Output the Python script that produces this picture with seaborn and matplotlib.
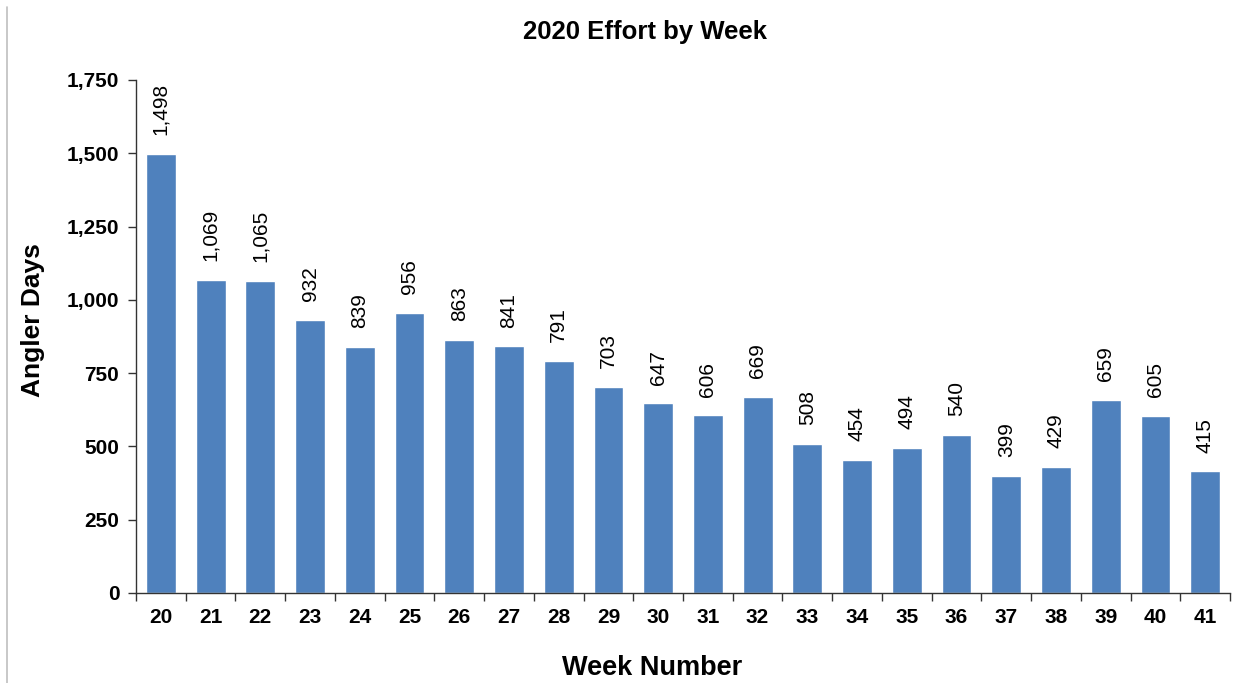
import matplotlib
matplotlib.use("Agg")
import matplotlib.pyplot as plt
import seaborn as sns
import pandas as pd
from matplotlib.lines import Line2D
from matplotlib.ticker import FuncFormatter, FixedLocator

weeks = [str(w) for w in range(20, 42)]
angler_days = [1498, 1069, 1065, 932, 839, 956, 863, 841, 791, 703, 647, 606,
               669, 508, 454, 494, 540, 399, 429, 659, 605, 415]
y_ticks = [0, 250, 500, 750, 1000, 1250, 1500, 1750]

sns.set_theme(style="white")
plt.rcParams['font.family'] = ['Liberation Sans', 'DejaVu Sans']

df = pd.DataFrame({"week": weeks, "days": angler_days})

fig = plt.figure(figsize=(12.33, 6.83), dpi=100)
ax = fig.add_axes([0.1103, 0.1318, 0.8873, 0.7511])
sns.barplot(data=df, x="week", y="days", color="#4F81BD", width=0.6,
            saturation=1, ax=ax)

ax.set_xlim(-0.5, len(weeks) - 0.5)
ax.set_ylim(0, 1750)
ax.set_yticks(y_ticks)
ax.yaxis.set_major_formatter(FuncFormatter(lambda v, p: f"{int(v):,}"))
ax.tick_params(axis='y', which='major', length=6, width=1, color='#333333',
               direction='out', left=True, labelsize=15, pad=6)
ax.tick_params(axis='x', which='major', length=0, labelsize=15, pad=11)
ax.xaxis.set_minor_locator(FixedLocator([i - 0.5 for i in range(len(weeks) + 1)]))
ax.tick_params(axis='x', which='minor', length=6, width=1, color='#333333',
               direction='out', bottom=True)
for lbl in ax.get_xticklabels() + ax.get_yticklabels():
    lbl.set_fontweight('bold')
    lbl.set_color('black')

for s in ['top', 'right']:
    ax.spines[s].set_visible(False)
for s in ['left', 'bottom']:
    ax.spines[s].set_color('#333333')
    ax.spines[s].set_linewidth(1)

for i, v in enumerate(angler_days):
    ax.annotate(f"{v:,}", (i, v), xytext=(0, 13.5), textcoords='offset points',
                rotation=90, ha='center', va='bottom', fontsize=15,
                color='black')

ax.set_xlabel("Week Number", fontsize=19.5, fontweight='bold', color='black')
ax.xaxis.set_label_coords((652 / 1233 - 0.1103) / 0.8873, -0.121)
ax.set_ylabel("Angler Days", fontsize=19, fontweight='bold', color='black')
ax.yaxis.set_label_coords(-0.0835, ((1 - 320 / 683) - 0.1318) / 0.7511)
fig.text(0.523, 0.953, "2020 Effort by Week", ha='center', va='center',
         fontsize=18.5, fontweight='bold', color='black')

fig.add_artist(Line2D([7 / 1233, 7 / 1233], [0, 1 - 7 / 683],
                      transform=fig.transFigure, color='#BFBFBF', linewidth=1.2))

fig.savefig("out.png", dpi=100)
